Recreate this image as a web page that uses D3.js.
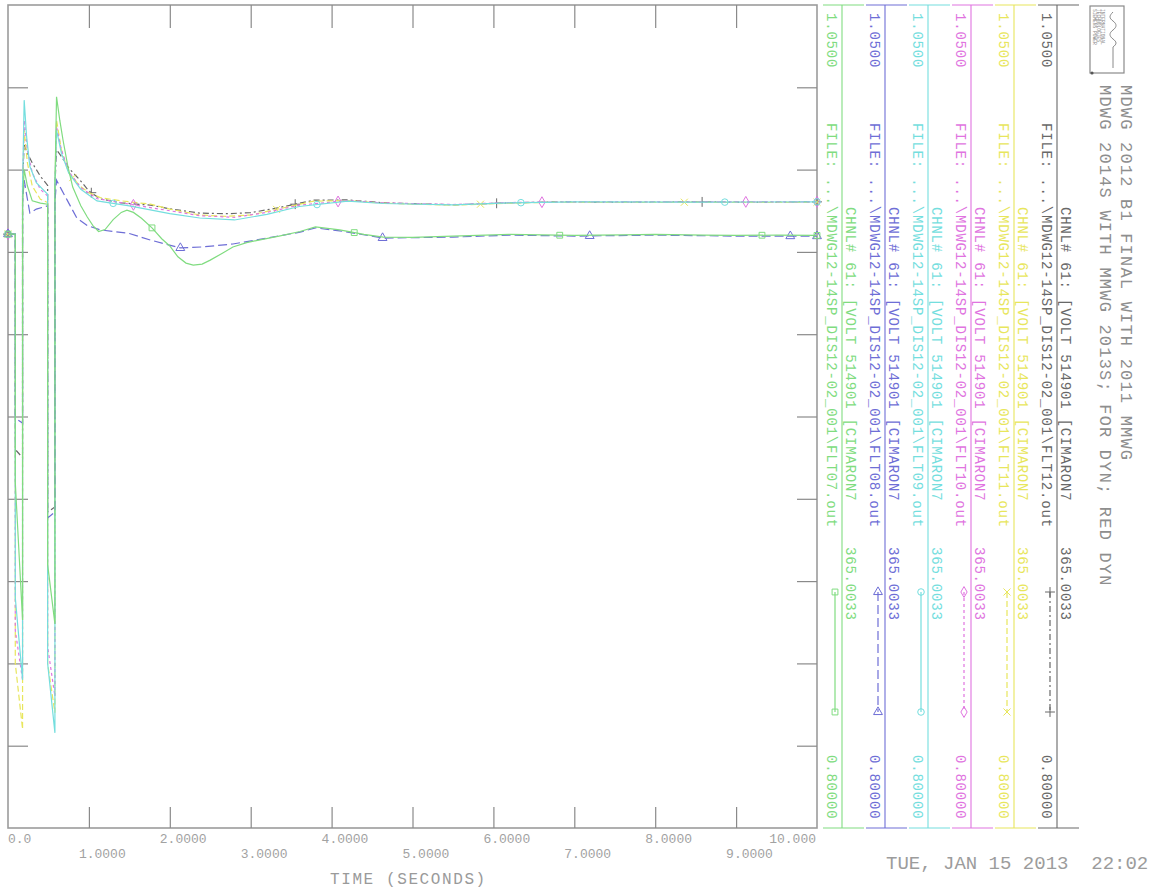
<!DOCTYPE html>
<html>
  <head>
    <title> CHNL 61 VOLT 514901 CIMARON7 </title>
    <meta charset="utf-8">
    <style>
    body { margin: 0; border: 0; overflow: hidden; background: #fff; }
    text { font-family: "Liberation Mono", "DejaVu Sans Mono", monospace; }
    .frame { fill: none; stroke: #9c9c9c; stroke-width: 1.6px; }
    .axis line { stroke: #8a8a8a; stroke-width: 1.2px; }
    .axis .domain, .axis text { display: none; }
    .xlab { font-size: 13px; fill: #a2a2a2; }
    .xtitle { font-size: 16px; fill: #9a9a9a; letter-spacing: 1.6px; }
    .leg { font-size: 14px; letter-spacing: 0.8px; }
    .title { font-size: 17px; fill: #8e8e8e; letter-spacing: 1.2px; }
    .date { font-size: 19px; fill: #9c9c9c; white-space: pre; }
    .curve { fill: none; stroke-width: 1.2px; }
    .mark { fill: none; stroke-width: 1px; }
    </style>
  </head>
  <body>
    <script src="https://cdnjs.cloudflare.com/ajax/libs/d3/7.8.5/d3.min.js"></script>
    <script>
var width = 1168, height = 891,
    plot = ({left: 8, right: 817, top: 5, bottom: 828});

// ---- data: [time (s), voltage (pu)] ----
var flt07 = [[0,0.9804],[0.09,0.9804],[0.09,0.9050],[0.18,0.8632],[0.18,0.9900],[0.20,1.0000],[0.24,0.9950],[0.30,0.9905],[0.40,0.9898],[0.49,0.9895],[0.49,0.8800],[0.58,0.8620],[0.58,0.9950],[0.60,1.0221],[0.64,1.0150],[0.68,1.0090],[0.74,1.0010],[0.80,0.9947],[0.90,0.9890],[0.98,0.9856],[1.05,0.9830],[1.12,0.9812],[1.20,0.9818],[1.30,0.9848],[1.40,0.9870],[1.47,0.9877],[1.55,0.9870],[1.65,0.9852],[1.78,0.9823],[1.90,0.9790],[2.00,0.9768],[2.10,0.9735],[2.20,0.9716],[2.29,0.9710],[2.40,0.9713],[2.50,0.9725],[2.65,0.9746],[2.78,0.9765],[2.95,0.9778],[3.10,0.9786],[3.35,0.9798],[3.61,0.9812],[3.80,0.9826],[4.10,0.9817],[4.40,0.9803],[4.64,0.9795],[5.00,0.9794],[5.50,0.9798],[6.20,0.9803],[7.00,0.9800],[7.60,0.9802],[8.00,0.9803],[8.60,0.9801],[9.00,0.9800],[9.50,0.9801],[10.0,0.9800]];
var flt08 = [[0,0.9804],[0.09,0.9804],[0.09,0.9245],[0.18,0.9230],[0.18,0.9900],[0.20,0.9968],[0.24,0.9910],[0.27,0.9868],[0.35,0.9880],[0.49,0.9890],[0.49,0.8942],[0.58,0.8960],[0.58,0.9900],[0.60,0.9968],[0.66,0.9940],[0.73,0.9908],[0.85,0.9853],[0.98,0.9830],[1.14,0.9817],[1.50,0.9806],[1.76,0.9786],[2.13,0.9762],[2.40,0.9765],[2.78,0.9774],[3.20,0.9792],[3.61,0.9810],[3.80,0.9823],[4.10,0.9814],[4.64,0.9792],[5.50,0.9795],[6.20,0.9801],[7.00,0.9798],[8.00,0.9801],[9.00,0.9798],[10.0,0.9798]];
var flt09 = [[0,0.9804],[0.09,0.9804],[0.09,0.8700],[0.18,0.8450],[0.18,0.9950],[0.20,1.0211],[0.23,1.0100],[0.27,1.0010],[0.35,0.9960],[0.49,0.9925],[0.49,0.8500],[0.58,0.8289],[0.58,0.9950],[0.60,1.0120],[0.66,1.0050],[0.75,0.9990],[0.90,0.9940],[1.10,0.9905],[1.50,0.9890],[2.00,0.9866],[2.37,0.9853],[2.80,0.9847],[3.20,0.9864],[3.60,0.9888],[4.20,0.9904],[4.64,0.9897],[5.50,0.9893],[6.20,0.9899],[7.00,0.9902],[8.50,0.9901],[10.0,0.9902]];
var flt10 = [[0,0.9804],[0.09,0.9804],[0.09,0.8600],[0.18,0.8450],[0.18,0.9950],[0.20,1.0150],[0.24,1.0060],[0.30,0.9990],[0.40,0.9940],[0.49,0.9920],[0.49,0.8550],[0.58,0.8400],[0.58,0.9950],[0.60,1.0130],[0.66,1.0060],[0.75,0.9995],[0.90,0.9945],[1.10,0.9912],[1.50,0.9895],[2.00,0.9875],[2.37,0.9860],[2.80,0.9855],[3.20,0.9870],[3.60,0.9892],[4.20,0.9906],[4.64,0.9899],[5.50,0.9894],[6.20,0.9900],[7.00,0.9902],[8.50,0.9902],[10.0,0.9902]];
var flt11 = [[0,0.9804],[0.09,0.9804],[0.09,0.8500],[0.18,0.8300],[0.18,0.9950],[0.20,1.0120],[0.24,1.0020],[0.30,0.9950],[0.40,0.9910],[0.49,0.9900],[0.49,0.8500],[0.58,0.8350],[0.58,0.9950],[0.60,1.0150],[0.66,1.0060],[0.75,0.9990],[0.89,0.9950],[1.00,0.9930],[1.14,0.9915],[1.40,0.9905],[1.76,0.9895],[2.00,0.9880],[2.37,0.9862],[2.70,0.9858],[2.99,0.9862],[3.30,0.9878],[3.57,0.9893],[3.78,0.9904],[4.20,0.9906],[4.64,0.9898],[5.50,0.9892],[6.20,0.9898],[6.77,0.9901],[7.60,0.9900],[8.50,0.9901],[9.30,0.9900],[10.0,0.9901]];
var flt12 = [[0,0.9804],[0.09,0.9804],[0.09,0.9150],[0.18,0.9125],[0.18,0.9960],[0.20,1.0075],[0.24,1.0050],[0.30,1.0020],[0.40,0.9980],[0.49,0.9952],[0.49,0.8960],[0.58,0.8975],[0.58,0.9950],[0.60,1.0060],[0.66,1.0040],[0.75,1.0005],[0.89,0.9968],[1.00,0.9935],[1.14,0.9911],[1.40,0.9899],[1.76,0.9892],[2.00,0.9881],[2.37,0.9868],[2.70,0.9866],[2.99,0.9869],[3.30,0.9882],[3.57,0.9896],[3.78,0.9907],[4.20,0.9908],[4.64,0.9899],[5.50,0.9893],[6.20,0.9899],[6.77,0.9902],[7.60,0.9901],[8.50,0.9902],[9.30,0.9901],[10.0,0.9902]];

// legend order, left to right
var series = [flt07, flt08, flt09, flt10, flt11, flt12];
var fileNames = ["FLT07", "FLT08", "FLT09", "FLT10", "FLT11", "FLT12"];
var markerTimes = [
  [0, 1.78, 4.28, 6.82, 9.32, 10],
  [0, 2.13, 4.63, 7.19, 9.67, 10],
  [0, 1.30, 3.82, 6.34, 8.86, 10],
  [0, 1.55, 4.08, 6.60, 9.12, 10],
  [0, 0.80, 3.32, 5.84, 8.36, 10],
  [0, 1.03, 3.55, 6.04, 8.58, 10]
];
var channelLabel = "CHNL# 61: [VOLT 514901 [CIMARON7";
var filePrefix = "FILE: ...\\MDWG12-14SP_DIS12-02_001\\";
var scaleMax = "1.0500", scaleMin = "0.80000", baseLabel = "365.0033";

var xTicks = [1, 2, 3, 4, 5, 6, 7, 8, 9];
var yTicks = [0.825, 0.85, 0.875, 0.9, 0.925, 0.95, 0.975, 1.0, 1.025];
var xLabelValues = [0, 1, 2, 3, 4, 5, 6, 7, 8, 9, 10];
var xLabels = ["0.0", "1.0000", "2.0000", "3.0000", "4.0000", "5.0000", "6.0000", "7.0000", "8.0000", "9.0000", "10.000"];
var titleLines = ["MDWG 2012 B1 FINAL WITH 2011 MMWG", "MDWG 2014S WITH MMWG 2013S; FOR DYN; RED DYN"];
var dateText = "TUE, JAN 15 2013  22:02";

// styles
var colors = ["#80dc80", "#6e6ed6", "#74dede", "#e074e0", "#e8e65c", "#686868"];
var dashes = [null, "9,4", null, "3,3", "6,3", "6,3,2,3"];
var symbols = [d3.symbolSquare, d3.symbolTriangle, d3.symbolCircle, d3.symbolDiamond,
               d3.symbolTimes || d3.symbolCross, d3.symbolPlus || d3.symbolCross];

var x = d3.scaleLinear().domain([0, 10]).range([plot.left, plot.right]),
    y = d3.scaleLinear().domain([0.8, 1.05]).range([plot.bottom, plot.top]);

var svg = d3.select("body").append("svg")
    .attr("width", width)
    .attr("height", height);

svg.append("rect")
  .attr("class", "frame")
  .attr("x", x(0)).attr("y", y(1.05))
  .attr("width", x(10) - x(0)).attr("height", y(0.8) - y(1.05));

// ticks pointing inward on all four sides
svg.append("g").attr("class", "axis")
  .attr("transform", "translate(0," + plot.top + ")")
  .call(d3.axisBottom(x).tickValues(xTicks).tickSize(23).tickFormat(""));
svg.append("g").attr("class", "axis")
  .attr("transform", "translate(0," + plot.bottom + ")")
  .call(d3.axisTop(x).tickValues(xTicks).tickSize(21).tickFormat(""));
svg.append("g").attr("class", "axis")
  .attr("transform", "translate(" + plot.left + ",0)")
  .call(d3.axisRight(y).tickValues(yTicks).tickSize(20).tickFormat(""));
svg.append("g").attr("class", "axis")
  .attr("transform", "translate(" + plot.right + ",0)")
  .call(d3.axisLeft(y).tickValues(yTicks).tickSize(20).tickFormat(""));

// staggered time labels
svg.selectAll("text.xlab")
  .data(xLabelValues)
  .enter().append("text")
  .attr("class", "xlab")
  .attr("x", function(d) {
    if (d == 0) return x(d);
    if (d == 10) return x(d) - 1;
    return x(d) - 10;
  })
  .attr("y", function(d, i) { return i % 2 ? 858 : 843; })
  .attr("text-anchor", function(d) { return d == 10 ? "end" : "start"; })
  .text(function(d, i) { return xLabels[i]; });

svg.append("text").attr("class", "xtitle")
  .attr("x", 330).attr("y", 884)
  .text("TIME (SECONDS)");

var line = d3.line()
  .x(function(d) { return x(d[0]); })
  .y(function(d) { return y(d[1]); });

function valueAt(s, t) {
  for (var i = 0; i < s.length - 1; i++) {
    if (t >= s[i][0] && t <= s[i + 1][0] && s[i + 1][0] > s[i][0]) {
      var f = (t - s[i][0]) / (s[i + 1][0] - s[i][0]);
      return s[i][1] + f * (s[i + 1][1] - s[i][1]);
    }
  }
  return s[s.length - 1][1];
}

// draw back to front: channel 1 (FLT12) on top
d3.range(series.length).reverse().forEach(function(k) {
  var g = svg.append("g");
  g.append("path")
    .attr("class", "curve")
    .attr("d", line(series[k]))
    .attr("stroke", colors[k])
    .attr("stroke-dasharray", dashes[k]);
  g.selectAll("path.mark")
    .data(markerTimes[k])
    .enter().append("path")
    .attr("class", "mark")
    .attr("d", d3.symbol().type(symbols[k]).size(34))
    .attr("stroke", colors[k])
    .attr("transform", function(t) { return "translate(" + x(t) + "," + y(valueAt(series[k], t)) + ")"; });
});

// legend strips, rotated text
function vtext(g, cx, sy, str, color, cls) {
  return g.append("text")
    .attr("class", cls || "leg")
    .attr("transform", "translate(" + cx + "," + sy + ") rotate(90)")
    .attr("dy", "0.35em")
    .attr("fill", color)
    .text(str);
}

series.forEach(function(s, k) {
  var a = 832 + 43 * k, c = colors[k];
  var g = svg.append("g");
  g.append("line")
    .attr("x1", a + 10).attr("x2", a + 10)
    .attr("y1", plot.top).attr("y2", plot.bottom)
    .attr("stroke", c).attr("stroke-width", 1.1);
  [plot.top, plot.bottom].forEach(function(yy) {
    g.append("line")
      .attr("x1", a - 9).attr("x2", a + 32)
      .attr("y1", yy).attr("y2", yy)
      .attr("stroke", c).attr("stroke-width", 1.1);
  });
  vtext(g, a, 13, scaleMax, c);
  vtext(g, a, 123, filePrefix + fileNames[k] + ".out", c);
  vtext(g, a, 755, scaleMin, c);
  vtext(g, a + 19, 207, channelLabel, c);
  vtext(g, a + 19, 547, baseLabel, c);
  g.append("line")
    .attr("x1", a + 3).attr("x2", a + 3)
    .attr("y1", 592).attr("y2", 712)
    .attr("stroke", c).attr("stroke-width", 1.2)
    .attr("stroke-dasharray", dashes[k]);
  [592, 712].forEach(function(yy) {
    g.append("path")
      .attr("class", "mark")
      .attr("d", d3.symbol().type(symbols[k]).size(34))
      .attr("stroke", c)
      .attr("transform", "translate(" + (a + 3) + "," + yy + ")");
  });
});

// title, first line on the right (text reads top to bottom)
titleLines.forEach(function(t, i) {
  vtext(svg, 1127 - 21 * i, 85, t, "#8e8e8e", "title");
});

// logo box
var logo = svg.append("g");
logo.append("rect")
  .attr("x", 1090).attr("y", 6).attr("width", 34).attr("height", 67)
  .attr("fill", "none").attr("stroke", "#8a8a8a").attr("stroke-width", 1.2);
logo.append("path")
  .attr("d", "M1113,12 C1109,16 1109,18 1113,21 C1117,24 1117,27 1113,30 C1109,33 1109,36 1113,39 C1117,42 1117,44 1113,47 L1113,68")
  .attr("fill", "none").attr("stroke", "#8a8a8a").attr("stroke-width", 1);
["SIEMENS POWER", "TECHNOLOGIES", "INTERNATIONAL"].forEach(function(t, i) {
  logo.append("text")
    .attr("transform", "translate(" + (1095 + 4 * i) + ",9) rotate(90)")
    .attr("dy", "0.35em")
    .attr("font-size", "4.6px")
    .attr("fill", "#8a8a8a")
    .text(t);
});
logo.append("circle").attr("cx", 1092).attr("cy", 73).attr("r", 1.6).attr("fill", "#555");

svg.append("text").attr("class", "date")
  .attr("x", 886).attr("y", 869)
  .text(dateText);
    </script>
  </body>
</html>
